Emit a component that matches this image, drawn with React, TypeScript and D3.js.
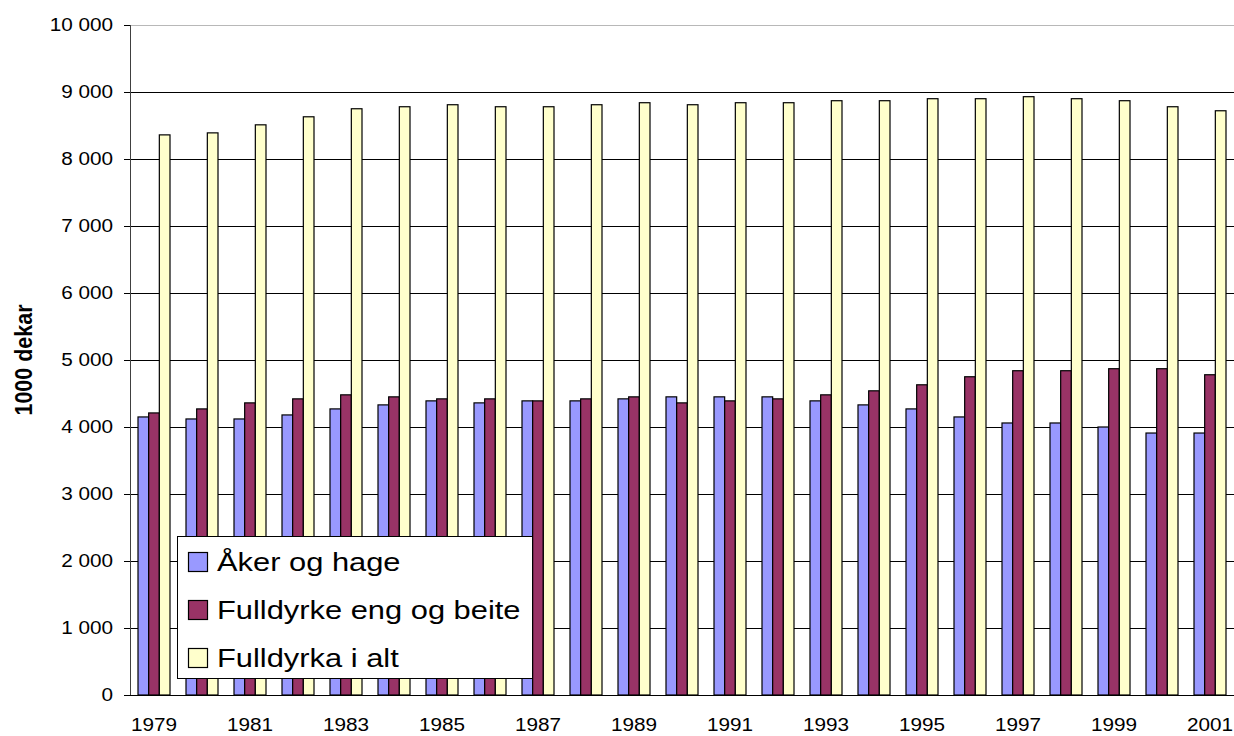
import React from "react";
import * as d3 from "d3";

const years = [
  "1979","1980","1981","1982","1983","1984","1985","1986","1987","1988","1989","1990",
  "1991","1992","1993","1994","1995","1996","1997","1998","1999","2000","2001",
];
const akerOgHage = [
  4150, 4120, 4120, 4180, 4270, 4330, 4390, 4360, 4390, 4390, 4420, 4450,
  4450, 4450, 4390, 4330, 4270, 4150, 4060, 4060, 4000, 3910, 3910,
];
const fulldyrkeEng = [
  4210, 4270, 4360, 4420, 4480, 4450, 4420, 4420, 4390, 4420, 4450, 4360,
  4390, 4420, 4480, 4540, 4630, 4750, 4840, 4840, 4870, 4870, 4780,
];
const fulldyrkaIAlt = [
  8360, 8390, 8510, 8630, 8750, 8780, 8810, 8780, 8780, 8810, 8840, 8810,
  8840, 8840, 8870, 8870, 8900, 8900, 8930, 8900, 8870, 8780, 8720,
];
const seriesNames = ["Åker og hage", "Fulldyrke eng og beite", "Fulldyrka i alt"];
const seriesColors = ["#9999FF", "#993366", "#FFFFCC"];
const yTicks = [0, 1000, 2000, 3000, 4000, 5000, 6000, 7000, 8000, 9000, 10000];
const xLabelYears = years.filter((_, i) => i % 2 === 0);
const yAxisTitle = "1000 dekar";

const W = 1234;
const H = 736;
const FONT = "'Liberation Sans', Arial, sans-serif";

export default function App() {
  const left = 130;
  const right = 1234;
  const top = 25;
  const bottom = 695;

  const x0 = d3.scaleBand<string>().domain(years).range([left, right]).paddingInner(1 / 3).paddingOuter(1 / 6);
  const x1 = d3.scaleBand<number>().domain([0, 1, 2]).range([0, x0.bandwidth()]);
  const y = d3.scaleLinear().domain([0, 10000]).range([bottom, top]);
  const fmt = (v: number) => d3.format(",")(v).replace(/,/g, " ");
  const series = [akerOgHage, fulldyrkeEng, fulldyrkaIAlt];

  return (
    <div style={{ position: "absolute", left: 0, top: 0 }}>
      <svg width={W} height={H} style={{ display: "block", background: "#fff" }}>
        <rect x={0} y={0} width={W} height={H} fill="#fff" />
        {yTicks.map((t) => (
          <line
            key={"g" + t}
            x1={left}
            x2={right}
            y1={Math.round(y(t)) + 0.5}
            y2={Math.round(y(t)) + 0.5}
            stroke={t === 10000 ? "#b8b8b8" : "#000"}
            strokeWidth={1}
          />
        ))}
        {years.map((yr, i) => (
          <g key={yr}>
            {series.map((s, k) => (
              <rect
                key={k}
                x={(x0(yr) as number) + (x1(k) as number)}
                y={y(s[i])}
                width={x1.bandwidth()}
                height={y(0) - y(s[i])}
                fill={seriesColors[k]}
                stroke="#000"
                strokeWidth={1.2}
              />
            ))}
          </g>
        ))}
        <line x1={left + 0.5} x2={left + 0.5} y1={top} y2={bottom} stroke="#404040" strokeWidth={1} />
        <line x1={left} x2={right} y1={Math.round(y(0)) + 0.5} y2={Math.round(y(0)) + 0.5} stroke="#000" strokeWidth={1} />
        {yTicks.map((t) => (
          <g key={"t" + t}>
            <line x1={124} x2={left} y1={Math.round(y(t)) + 0.5} y2={Math.round(y(t)) + 0.5} stroke="#000" />
            <g transform={`translate(113,${y(t) + 6}) scale(1.12,1)`}>
              <text textAnchor="end" fontFamily={FONT} fontSize={18.5} fill="#000">
                {fmt(t)}
              </text>
            </g>
          </g>
        ))}
        {xLabelYears.map((yr) => (
          <g key={"x" + yr} transform={`translate(${(x0(yr) as number) + x0.bandwidth() / 2},731) scale(1.12,1)`}>
            <text textAnchor="middle" fontFamily={FONT} fontSize={18.5} fill="#000">
              {yr}
            </text>
          </g>
        ))}
        <g transform={`translate(32,${(top + bottom) / 2}) rotate(-90) scale(1,1.12)`}>
          <text textAnchor="middle" fontFamily={FONT} fontSize={21.5} fontWeight="bold" fill="#000">
            {yAxisTitle}
          </text>
        </g>
        <g>
          <rect x={177.5} y={536.5} width={355} height={142} fill="#fff" stroke="#000" strokeWidth={1} />
          {seriesNames.map((name, k) => {
            const cy = 562 + k * 48;
            return (
              <g key={name}>
                <rect x={188.5} y={cy - 9.5} width={19} height={19} fill={seriesColors[k]} stroke="#000" strokeWidth={1.2} />
                <g transform={`translate(217,${cy + 9}) scale(1.21,1)`}>
                  <text fontFamily={FONT} fontSize={25.5} fill="#000">
                    {name}
                  </text>
                </g>
              </g>
            );
          })}
        </g>
      </svg>
    </div>
  );
}
